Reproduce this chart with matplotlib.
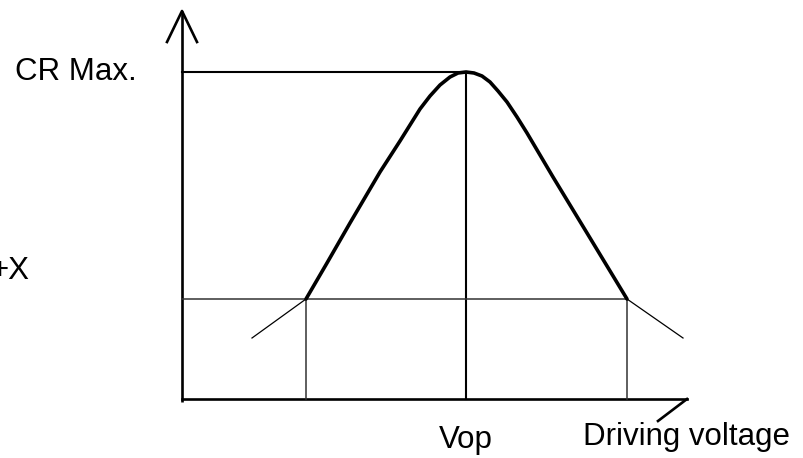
import matplotlib.pyplot as plt

plt.rcParams['font.family'] = ['Liberation Sans', 'DejaVu Sans']

# contrast curve (arbitrary units, origin at axes corner)
volt = [1.24, 1.45, 1.68, 1.98, 2.18, 2.28, 2.38, 2.48, 2.58, 2.68, 2.76,
        2.84, 2.92, 3.00, 3.08, 3.16, 3.25, 3.35, 3.45, 3.71, 4.05, 4.25, 4.45]
contrast = [1.00, 1.36, 1.76, 2.27, 2.58, 2.74, 2.90, 3.03, 3.14, 3.22, 3.26,
            3.27, 3.26, 3.23, 3.17, 3.08, 2.97, 2.82, 2.66, 2.22, 1.66, 1.33, 1.00]

vop = 2.84
cr_max = 3.27
v_low, v_high = 1.24, 4.45
cr_level = 1.00
ext_left = (0.70, 0.61)
ext_right = (5.01, 0.61)
x_end, y_end = 5.05, 3.88

fig = plt.figure(figsize=(8.04, 4.58), dpi=100)
ax = fig.add_axes([0, 0, 1, 1])
ax.set_xlim(-1.82, 6.22)
ax.set_ylim(-0.59, 3.99)
ax.axis('off')

# axes with arrows
ax.plot([0, 0], [-0.03, y_end], color='black', lw=1.9, solid_capstyle='butt')
ax.plot([-0.15, 0, 0.15], [3.57, y_end, 3.57], color='black', lw=1.9)
ax.plot([0, x_end], [0, 0], color='black', lw=1.9)
ax.plot([x_end, 4.76], [0, -0.22], color='black', lw=1.9)

# guide lines
ax.plot([0, vop], [cr_max, cr_max], color='black', lw=1.5)
ax.plot([vop, vop], [0, cr_max], color='black', lw=1.5)
ax.plot([0, v_high], [cr_level, cr_level], color='#333333', lw=1.1)
ax.plot([v_low, v_low], [0, cr_level], color='#333333', lw=1.1)
ax.plot([v_high, v_high], [0, cr_level], color='#333333', lw=1.1)
ax.plot([ext_left[0], v_low], [ext_left[1], cr_level], color='black', lw=0.9)
ax.plot([v_high, ext_right[0]], [cr_level, ext_right[1]], color='black', lw=0.9)

# curve
ax.plot(volt, contrast, color='black', lw=2.6, solid_joinstyle='round',
        solid_capstyle='round')

ax.text(-1.67, cr_max, 'CR Max.', fontsize=22.5, ha='left', va='center')
ax.text(-1.53, 1.20, '+X', fontsize=22.5, ha='right', va='baseline')
ax.text(vop, -0.49, 'Vop', fontsize=22.5, ha='center', va='baseline')
ax.text(4.01, -0.46, 'Driving voltage', fontsize=22.5, ha='left', va='baseline')

fig.savefig('out.png', dpi=100)
